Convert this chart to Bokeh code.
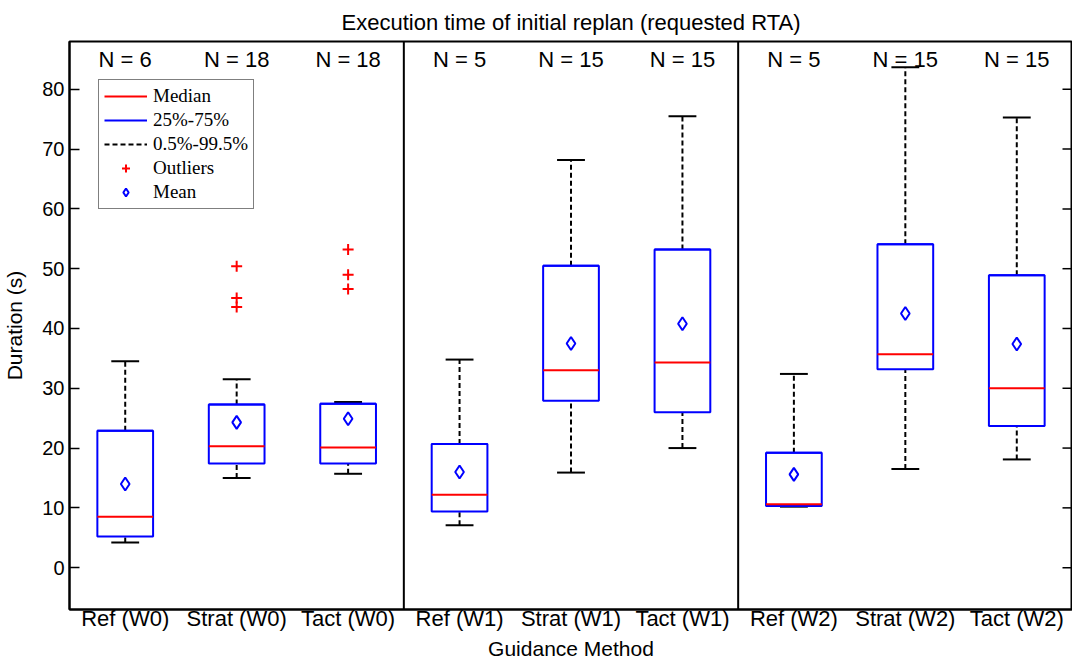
from bokeh.plotting import figure
from bokeh.models import Range1d, FixedTicker, Span, Legend, LegendItem, ColumnDataSource
from bokeh.core.properties import value
from bokeh.embed import file_html
from bokeh.resources import INLINE

# ---------------- data ----------------
categories = ["Ref (W0)", "Strat (W0)", "Tact (W0)",
              "Ref (W1)", "Strat (W1)", "Tact (W1)",
              "Ref (W2)", "Strat (W2)", "Tact (W2)"]
n_counts = [6, 18, 18, 5, 15, 15, 5, 15, 15]
whisker_low = [4.2, 15.0, 15.7, 7.1, 15.9, 20.0, 10.2, 16.5, 18.1]
q25 = [5.2, 17.4, 17.4, 9.4, 27.9, 26.0, 10.3, 33.2, 23.7]
medians = [8.5, 20.3, 20.1, 12.2, 33.0, 34.3, 10.6, 35.7, 30.0]
q75 = [22.9, 27.3, 27.4, 20.7, 50.5, 53.2, 19.2, 54.1, 48.9]
whisker_high = [34.5, 31.5, 27.7, 34.8, 68.2, 75.5, 32.4, 83.7, 75.3]
means = [14.0, 24.3, 24.9, 16.0, 37.5, 40.8, 15.6, 42.5, 37.4]
outlier_cat = [2, 2, 2, 3, 3, 3]          # 1-based category index
outlier_val = [50.4, 45.1, 43.6, 53.2, 49.0, 46.6]
y_ticks = [0, 10, 20, 30, 40, 50, 60, 70, 80]
group_size = 3

# ---------------- styling constants ----------------
BOX_HALF = 0.25
CAP_HALF = 0.125
N_LABEL_Y = 85
FONT = "Liberation Sans"

pos = list(range(1, len(categories) + 1))

src = ColumnDataSource(dict(
    x=pos,
    xl=[p - BOX_HALF for p in pos], xr=[p + BOX_HALF for p in pos],
    cl=[p - CAP_HALF for p in pos], cr=[p + CAP_HALF for p in pos],
    wl=whisker_low, q25=q25, med=medians, q75=q75, wh=whisker_high, mean=means,
    ntxt=[f"N = {n}" for n in n_counts],
))
out_src = ColumnDataSource(dict(x=outlier_cat, y=outlier_val))

x_rng = Range1d(0.5, 9.5)
p = figure(width=1072, height=662, output_backend="svg", toolbar_location=None,
           x_range=x_rng, y_range=Range1d(-7, 88),
           min_border_left=61, min_border_right=0, min_border_top=34, min_border_bottom=0,
           title="Execution time of initial replan (requested RTA)")
p.min_border = 0
p.background_fill_color = "white"
p.border_fill_color = "white"
p.outline_line_color = "black"
p.outline_line_width = 2
p.xgrid.visible = False
p.ygrid.visible = False

p.title.align = "center"
p.title.text_font = FONT
p.title.text_font_size = "22px"
p.title.text_font_style = "normal"
p.title.text_color = "black"
p.title.standoff = 14

# y axis (left)
ya = p.yaxis[0]
ya.ticker = FixedTicker(ticks=y_ticks)
ya.major_tick_in = 10
ya.major_tick_out = 0
ya.minor_tick_in = 0
ya.minor_tick_out = 0
ya.major_tick_line_width = 1.5
ya.axis_line_width = 2
ya.major_label_text_font = FONT
ya.major_label_text_font_size = "20px"
ya.major_label_text_color = "black"
ya.major_label_standoff = 5
ya.axis_label = "Duration (s)"
ya.axis_label_text_font = FONT
ya.axis_label_text_font_size = "21px"
ya.axis_label_text_font_style = "normal"
ya.axis_label_text_color = "black"
ya.axis_label_standoff = 13

# x axis (bottom)
xa = p.xaxis[0]
xa.ticker = FixedTicker(ticks=pos)
xa.major_label_overrides = {i: c for i, c in zip(pos, categories)}
xa.major_tick_in = 0
xa.major_tick_out = 0
xa.minor_tick_in = 0
xa.minor_tick_out = 0
xa.axis_line_width = 2
xa.major_label_text_font = FONT
xa.major_label_text_font_size = "22px"
xa.major_label_text_color = "black"
xa.major_label_standoff = -4
xa.axis_label = "Guidance Method"
xa.axis_label_text_font = FONT
xa.axis_label_text_font_size = "21px"
xa.axis_label_text_font_style = "normal"
xa.axis_label_text_color = "black"
xa.axis_label_standoff = 3

# right-edge inward ticks (dash markers centred on the right frame edge, clipped to half)
p.scatter(x=[x_rng.end] * len(y_ticks), y=y_ticks, marker="dash", size=20,
          line_color="black", line_width=1.5)

# group dividers
for k in range(1, len(categories) // group_size):
    p.add_layout(Span(location=k * group_size + 0.5, dimension="height",
                      line_color="black", line_width=2))

# whiskers
wr = p.segment(x0="x", y0="q75", x1="x", y1="wh", source=src,
               line_color="black", line_width=2, line_dash="5 3")
p.segment(x0="x", y0="wl", x1="x", y1="q25", source=src,
          line_color="black", line_width=2, line_dash="5 3")
# caps
p.segment(x0="cl", y0="wh", x1="cr", y1="wh", source=src, line_color="black", line_width=2)
p.segment(x0="cl", y0="wl", x1="cr", y1="wl", source=src, line_color="black", line_width=2)
# boxes
p.quad(left="xl", right="xr", bottom="q25", top="q75", source=src,
       fill_color=None, line_color="#0000ff", line_width=2)
box_edges = p.segment(x0="xl", y0="q75", x1="xr", y1="q75", source=src,
                      line_color="#0000ff", line_width=2)
# medians
mr = p.segment(x0="xl", y0="med", x1="xr", y1="med", source=src, line_color="#ff0000", line_width=2)
# means
mn = p.scatter(x="x", y="mean", source=src, marker="diamond", size=13,
               fill_color=None, line_color="#0000ff", line_width=2)
# outliers
orr = p.scatter(x="x", y="y", source=out_src, marker="cross", size=11,
                line_color="#ff0000", line_width=2)

# N labels
p.text(x="x", y=N_LABEL_Y, text="ntxt", source=src, text_align="center",
       text_baseline="middle", text_font=value(FONT), text_font_size="22px", text_color="black")

legend = Legend(items=[
    LegendItem(label="Median", renderers=[mr]),
    LegendItem(label="25%-75%", renderers=[box_edges]),
    LegendItem(label="0.5%-99.5%", renderers=[wr]),
    LegendItem(label="Outliers", renderers=[orr]),
    LegendItem(label="Mean", renderers=[mn]),
], location=(29, 400))
legend.label_text_font = "Liberation Serif"
legend.label_text_font_size = "19px"
legend.label_text_color = "black"
legend.border_line_color = "black"
legend.border_line_width = 1.5
legend.background_fill_color = "white"
legend.background_fill_alpha = 1.0
legend.padding = 5
legend.spacing = 2
legend.margin = 0
legend.glyph_width = 43
legend.glyph_height = 20
legend.label_height = 20
legend.label_standoff = 6
p.add_layout(legend, "center")

open("out.html", "w").write(file_html(p, INLINE))
